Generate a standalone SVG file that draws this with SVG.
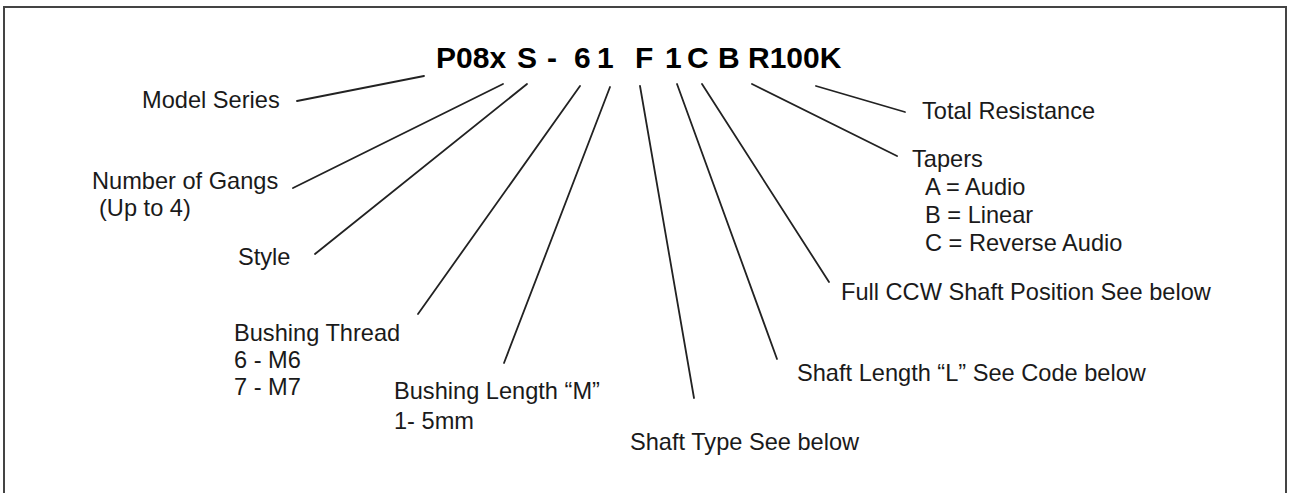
<svg xmlns="http://www.w3.org/2000/svg" width="1290" height="493" viewBox="0 0 1290 493">
<style>
.t{font-family:"Liberation Sans",Arial,sans-serif;font-size:23.6px;fill:#1a1a1a}
.h{font-family:"Liberation Sans",Arial,sans-serif;font-size:30px;font-weight:bold;fill:#000}
.c line{stroke:#222;stroke-width:1.8;stroke-linecap:round}
</style>
<rect x="4" y="7" width="1282" height="500" fill="#fff" stroke="#444" stroke-width="2"/>
<g id="title"><text class="h" y="68"><tspan x="436">P08x</tspan><tspan x="517">S</tspan><tspan x="547">-</tspan><tspan x="574">6</tspan><tspan x="597">1</tspan><tspan x="635">F</tspan><tspan x="665">1</tspan><tspan x="687">C</tspan><tspan x="718">B</tspan><tspan x="748">R100K</tspan></text></g>
<g class="c" id="connectors">
<line x1="297" y1="101" x2="424" y2="76"/>
<line x1="293" y1="188" x2="503" y2="84"/>
<line x1="315" y1="254" x2="527" y2="84"/>
<line x1="418" y1="314" x2="580" y2="86"/>
<line x1="504" y1="363" x2="610" y2="87"/>
<line x1="694" y1="398" x2="640" y2="86"/>
<line x1="777" y1="359" x2="677" y2="84"/>
<line x1="829" y1="282" x2="702" y2="84"/>
<line x1="897" y1="156" x2="752" y2="84"/>
<line x1="905" y1="112" x2="816" y2="86"/>
</g>
<g id="model-series"><text class="t" x="142" y="108">Model Series</text></g>
<g id="gangs"><text class="t" x="92" y="189">Number of Gangs</text><text class="t" x="99" y="216">(Up to 4)</text></g>
<g id="style"><text class="t" x="238" y="265">Style</text></g>
<g id="bushing-thread"><text class="t" x="234" y="341">Bushing Thread</text><text class="t" x="234" y="368">6 - M6</text><text class="t" x="234" y="395">7 - M7</text></g>
<g id="bushing-length"><text class="t" x="394" y="399">Bushing Length “M”</text><text class="t" x="394" y="429">1- 5mm</text></g>
<g id="shaft-type"><text class="t" x="630" y="450">Shaft Type See below</text></g>
<g id="shaft-length"><text class="t" x="797" y="381">Shaft Length “L” See Code below</text></g>
<g id="ccw"><text class="t" x="841" y="300">Full CCW Shaft Position See below</text></g>
<g id="tapers"><text class="t" x="912" y="167">Tapers</text><text class="t" x="925" y="195">A = Audio</text><text class="t" x="925" y="223">B = Linear</text><text class="t" x="925" y="251">C = Reverse Audio</text></g>
<g id="total-resistance"><text class="t" x="922" y="119">Total Resistance</text></g>
</svg>
